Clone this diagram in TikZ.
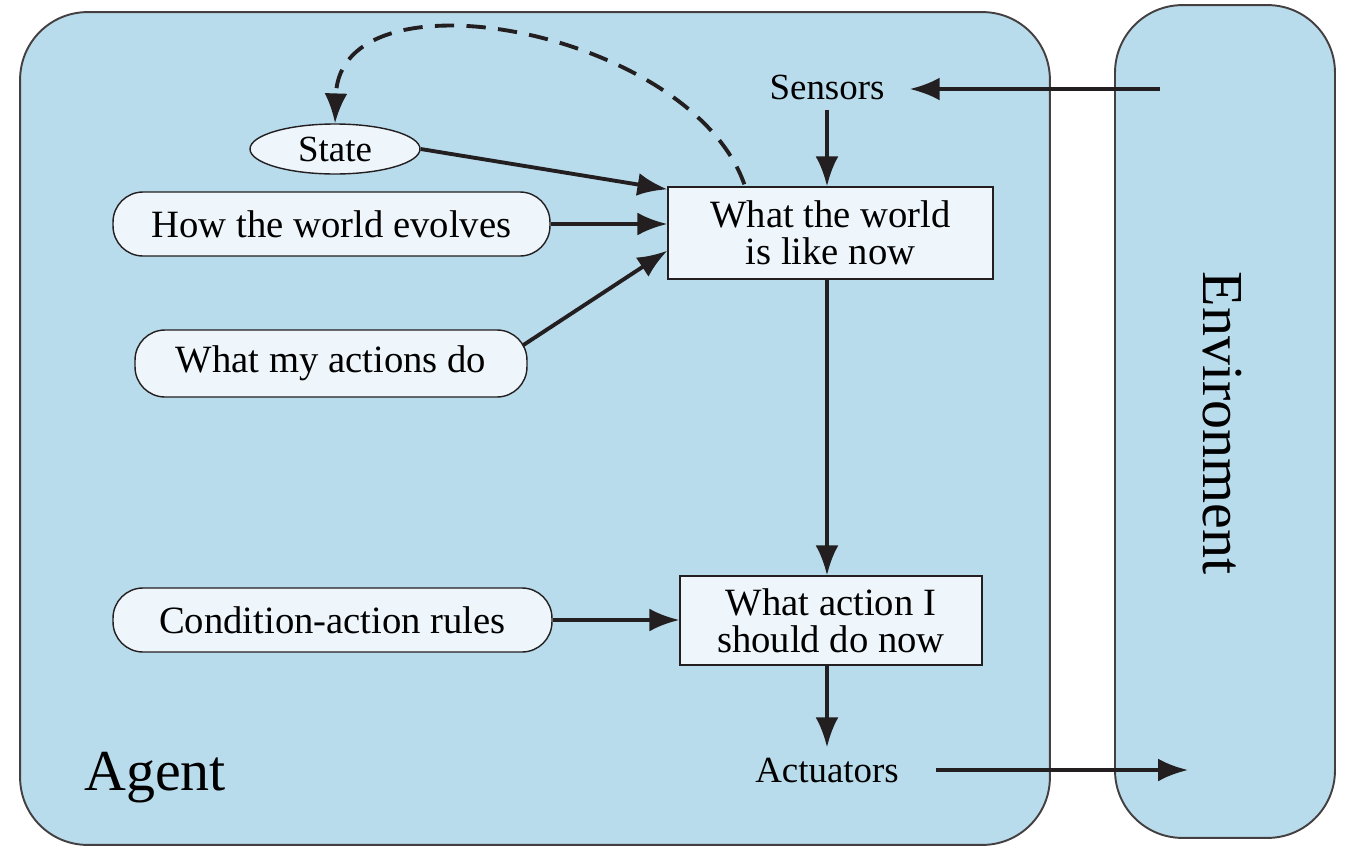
\documentclass[tikz,border=0pt]{standalone}
\usepackage{fontspec}
\setmainfont{Liberation Serif}
\usetikzlibrary{arrows.meta,shapes.geometric,calc}
\definecolor{agentblue}{RGB}{185,220,236}
\definecolor{nodefill}{RGB}{238,246,251}
\definecolor{inkc}{RGB}{35,30,32}
\begin{document}
\begin{tikzpicture}[x=0.02cm,y=-0.02cm,
  panel/.style={draw=inkc!85, line width=1.1pt, fill=agentblue, rounded corners=1.35cm, inner sep=0pt},
  boxnode/.style={draw=inkc, line width=0.8pt, fill=nodefill, align=center, inner sep=0pt,
                  font=\fontsize{22}{21}\selectfont},
  ovalnode/.style={ellipse, draw=inkc, line width=0.8pt, fill=nodefill, inner sep=0pt,
                  font=\fontsize{21}{21}\selectfont},
  capsule/.style={draw=inkc, line width=0.8pt, fill=nodefill, rounded corners=0.6cm, inner sep=0pt,
                  font=\fontsize{22}{21}\selectfont},
  lbl/.style={inner xsep=0.5cm, inner ysep=0.2cm, font=\fontsize{21}{21}\selectfont},
  arr/.style={draw=inkc, line width=2.2pt, -{Latex[length=17pt,width=13pt]}},
  dasharr/.style={draw=inkc, line width=2.2pt, dash pattern=on 11pt off 7pt, -{Latex[length=17pt,width=13pt]}}
]
\useasboundingbox (0,0) rectangle (1350,856);
% panels
\node[panel, minimum width=20.6cm, minimum height=16.66cm] (agentbox) at (535,428.5) {};
\node[panel, minimum width=4.4cm, minimum height=16.66cm] (envbox) at (1225,421.5) {};
\node[rotate=-90, font=\fontsize{33}{33}\selectfont] (envlabel) at (1222,423) {Environment};
\node[font=\fontsize{33}{33}\selectfont] (agentlabel) at (155,778) {Agent};
% nodes
\node[boxnode, minimum width=6.5cm, minimum height=1.84cm] (world) at (830.5,233) {What the world\\is like now};
\node[boxnode, minimum width=6.04cm, minimum height=1.78cm] (action) at (831,620.5) {What action I\\should do now};
\node[ovalnode, minimum width=3.4cm, minimum height=1cm] (state) at (335,149) {State};
\node[capsule, minimum width=8.74cm, minimum height=1.28cm] (evolves) at (331.5,224) {How the world evolves};
\node[capsule, minimum width=7.84cm, minimum height=1.34cm] (actions) at (331,363.5) {What my actions do};
\node[capsule, minimum width=8.78cm, minimum height=1.28cm] (rules) at (332.5,620) {Condition-action rules};
\node[lbl] (sensors) at (827,87) {Sensors};
\node[lbl] (actuators) at (827,770) {Actuators};
\coordinate (envin) at (1160,89);
\coordinate (envout) at (1188,770);
% connectors
\draw[arr] (envin) -- (sensors.east |- envin);
\draw[arr] (sensors.south) -- (sensors.south |- world.north);
\draw[arr] (state.east) -- ($(world.north west)+(0,3)$);
\draw[arr] (evolves.east) -- (evolves.east -| world.west);
\draw[arr] ($(actions.east)+(-5,-18)$) -- ($(world.south west)+(0,-29)$);
\draw[arr] (world.south -| sensors.south) -- (sensors.south |- action.north);
\draw[arr] (rules.east) -- (rules.east -| action.west);
\draw[arr] (action.south -| sensors.south) -- (sensors.south |- actuators.north);
\draw[arr] ($(actuators.east)+(12,0)$) -- (envout);
\draw[dasharr] ($(world.north west)+(77,-2)$) .. controls (690,30) and (340,-35) .. (state.north);
\end{tikzpicture}
\end{document}
